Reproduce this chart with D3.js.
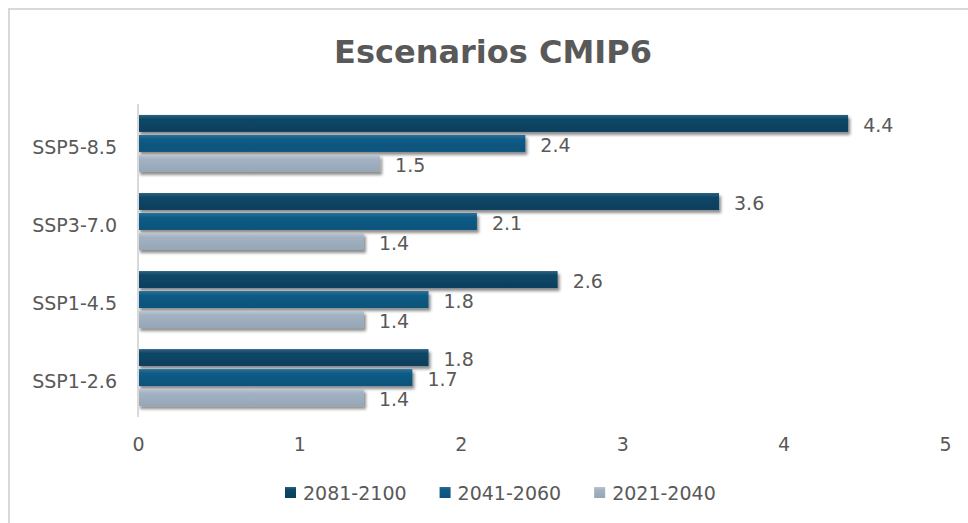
<!DOCTYPE html>
<html>
<head>
<meta charset="utf-8">
<script src="https://cdn.jsdelivr.net/npm/d3@7"></script>
<style>
  body { margin: 0; background: #fff; }
  text { font-family: "DejaVu Sans", sans-serif; fill: #595959; }
</style>
</head>
<body>
<div id="chart"></div>
<script>
// data
const scenarios = ["SSP5-8.5", "SSP3-7.0", "SSP1-4.5", "SSP1-2.6"];
const periods = ["2081-2100", "2041-2060", "2021-2040"];
const v20812100 = [4.4, 3.6, 2.6, 1.8];
const v20412060 = [2.4, 2.1, 1.8, 1.7];
const v20212040 = [1.5, 1.4, 1.4, 1.4];
const xTicks = [0, 1, 2, 3, 4, 5];

const seriesValues = [v20812100, v20412060, v20212040];
const colors = {
    "2081-2100": ["#2f6180", "#0c4767", "#093f5d"],
    "2041-2060": ["#2a7097", "#105c86", "#0d527a"],
    "2021-2040": ["#bac6d2", "#a2b2c2", "#95a6b7"]
};

const W = 968, H = 523;
const svg = d3.select("#chart").append("svg")
    .attr("width", W)
    .attr("height", H);

const defs = svg.append("defs");
const shadow = defs.append("filter").attr("id", "shadow")
    .attr("x", "-5%").attr("y", "-30%").attr("width", "115%").attr("height", "180%");
shadow.append("feDropShadow")
    .attr("dx", 2).attr("dy", 3).attr("stdDeviation", 1.8)
    .attr("flood-color", "#000").attr("flood-opacity", 0.45);

periods.forEach((p, i) => {
    const g = defs.append("linearGradient").attr("id", "grad" + i)
        .attr("x1", 0).attr("y1", 0).attr("x2", 0).attr("y2", 1);
    g.append("stop").attr("offset", "0%").attr("stop-color", colors[p][0]);
    g.append("stop").attr("offset", "25%").attr("stop-color", colors[p][1]);
    g.append("stop").attr("offset", "100%").attr("stop-color", colors[p][2]);
});

// outer border
svg.append("rect")
    .attr("x", 9).attr("y", 9)
    .attr("width", 1000).attr("height", 600)
    .attr("fill", "none")
    .attr("stroke", "#d9d9d9")
    .attr("stroke-width", 2);

// title
svg.append("text")
    .attr("x", 493)
    .attr("y", 63)
    .attr("text-anchor", "middle")
    .style("font-weight", "bold")
    .style("font-size", "32px")
    .text("Escenarios CMIP6");

// scales
const x = d3.scaleLinear().domain([0, 5]).range([138, 945]);
const y = d3.scaleBand().domain(scenarios).range([104, 417])
    .paddingInner(0.27).paddingOuter(0.14);
const ySub = d3.scaleBand().domain(periods).range([0, y.bandwidth()])
    .paddingInner(0.15);

// rows
const rows = [];
scenarios.forEach((s, i) => {
    periods.forEach((p, j) => {
        rows.push({ scenario: s, period: p, idx: j, value: seriesValues[j][i] });
    });
});

svg.append("g")
    .selectAll("rect")
    .data(rows)
    .join("rect")
    .attr("x", x(0))
    .attr("y", d => y(d.scenario) + ySub(d.period))
    .attr("width", d => x(d.value) - x(0))
    .attr("height", ySub.bandwidth())
    .attr("fill", d => `url(#grad${d.idx})`)
    .attr("filter", "url(#shadow)");

// value labels
svg.append("g")
    .selectAll("text")
    .data(rows)
    .join("text")
    .attr("x", d => x(d.value) + 15)
    .attr("y", d => y(d.scenario) + ySub(d.period) + ySub.bandwidth() / 2 + 1.5)
    .attr("dy", "0.36em")
    .style("font-size", "19px")
    .text(d => d.value.toFixed(1));

// y axis line
svg.append("line")
    .attr("x1", x(0)).attr("x2", x(0))
    .attr("y1", 104).attr("y2", 417)
    .attr("stroke", "#d9d9d9")
    .attr("stroke-width", 2);

// category labels
const yAxis = svg.append("g")
    .attr("transform", `translate(${x(0)},4)`)
    .call(d3.axisLeft(y).tickSize(0).tickPadding(21));
yAxis.select(".domain").remove();
yAxis.selectAll("text")
    .style("font-size", "19px")
    .style("font-family", "DejaVu Sans, sans-serif")
    .attr("fill", "#595959");

// x axis labels
const xAxis = svg.append("g")
    .attr("transform", "translate(0,417)")
    .call(d3.axisBottom(x).tickValues(xTicks).tickSize(0).tickPadding(21).tickFormat(d3.format("d")));
xAxis.select(".domain").remove();
xAxis.selectAll("text")
    .style("font-size", "19px")
    .style("font-family", "DejaVu Sans, sans-serif")
    .attr("fill", "#595959");

// legend
const legend = svg.append("g").attr("transform", "translate(285,0)");
let lx = 0;
periods.forEach((p, i) => {
    const item = legend.append("g").attr("transform", `translate(${lx},0)`);
    item.append("rect")
        .attr("x", 0).attr("y", 487)
        .attr("width", 11).attr("height", 11)
        .attr("fill", `url(#grad${i})`);
    const t = item.append("text")
        .attr("x", 18)
        .attr("y", 493)
        .attr("dy", "0.36em")
        .style("font-size", "19px")
        .text(p);
    lx += 18 + t.node().getComputedTextLength() + 33;
});
</script>
</body>
</html>
